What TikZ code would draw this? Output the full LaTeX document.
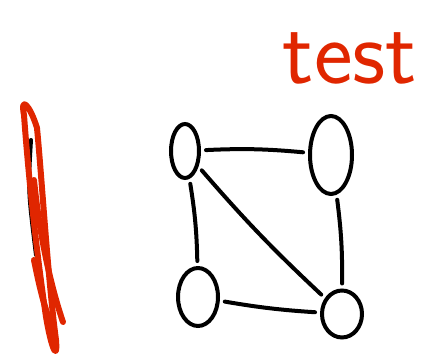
\documentclass[tikz,border=0pt]{standalone}
\usepackage{tikz}
\usepackage{xcolor}
\usetikzlibrary{shapes.geometric}
\definecolor{tinta}{RGB}{224,38,0}

\begin{document}
\begin{tikzpicture}[x=1pt, y=-1pt,
        no/.style={ellipse, draw=black, line width=4pt, inner sep=0pt},
        aresta/.style={draw=black, line width=4pt, line cap=round, shorten <=5pt, shorten >=5pt},
        risco/.style={draw=tinta, line width=6pt, line cap=round, line join=round},
        rotulo/.style={text=tinta, font=\sffamily\fontsize{92}{92}\selectfont, inner sep=0pt}
    ]
    \useasboundingbox (0,0) rectangle (437,363);
    % Grafo: quatro vertices
    \node[no, minimum width=28pt, minimum height=54pt] (a) at (185,151) {};
    \node[no, minimum width=42pt, minimum height=78pt] (b) at (331,155) {};
    \node[no, minimum width=40pt, minimum height=58pt] (c) at (198,297) {};
    \node[no, minimum width=40pt, minimum height=47pt] (d) at (342,314) {};
    \draw[aresta] (a) to[bend left=4] (b);
    \draw[aresta] (a) to[bend left=4] (c);
    \draw[aresta] (a) to[bend right=3] (d);
    \draw[aresta] (b) to[bend left=4] (d);
    \draw[aresta] (c) to[bend right=3] (d);
    % Rabisco vermelho a esquerda
    \draw[draw=black, line width=4pt, line cap=round] (31,140) .. controls (28,190) .. (36,255);
    \draw[risco] (37,128) .. controls (30,105) and (20,95) .. (24,115)
        .. controls (28,170) and (35,240) .. (45,310)
        .. controls (50,345) and (58,365) .. (56,340)
        .. controls (48,280) and (42,180) .. (37,128);
    \draw[risco] (34,180) .. controls (40,240) and (52,290) .. (63,322);
    \draw[risco] (34,260) .. controls (40,290) and (45,310) .. (52,325);
    % Texto manuscrito
    \node[rotulo, anchor=base] (titulo) at (350,84) {test};
\end{tikzpicture}
\end{document}
